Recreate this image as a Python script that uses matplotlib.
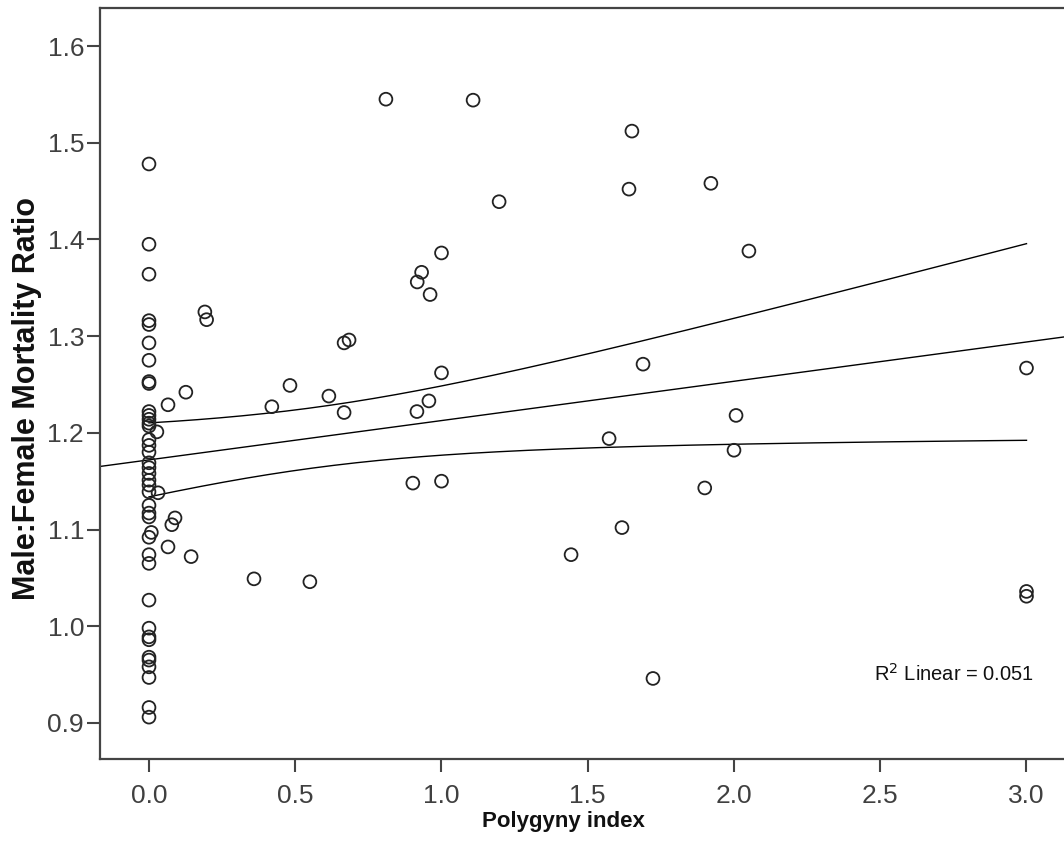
import numpy as np
import matplotlib
matplotlib.use("Agg")
import matplotlib.pyplot as plt

plt.rcParams['font.family'] = ['Liberation Sans', 'DejaVu Sans']

# Points with polygyny index = 0
zero_y = [1.478, 1.395, 1.364, 1.316, 1.312, 1.293, 1.275, 1.253, 1.251,
          1.222, 1.218, 1.214, 1.210, 1.207, 1.193, 1.187, 1.180, 1.169,
          1.164, 1.158, 1.151, 1.146, 1.139, 1.125, 1.117, 1.113, 1.092,
          1.074, 1.065, 1.027, 0.998, 0.989, 0.986, 0.968, 0.965, 0.958,
          0.947, 0.916, 0.906]

# Points with polygyny index > 0
pos_x = [0.008, 0.027, 0.031, 0.065, 0.126, 0.191, 0.197, 0.089, 0.078,
         0.065, 0.144, 0.359, 0.550, 0.420, 0.482, 0.615, 0.667, 0.667,
         0.684, 0.810, 1.108, 1.197, 1.000, 0.932, 0.917, 0.961, 1.000,
         0.916, 0.957, 0.902, 1.000, 1.443, 1.573, 1.617, 1.689, 1.723,
         1.641, 1.651, 1.921, 2.051, 2.007, 2.000, 1.900, 3.000, 3.000,
         3.000]
pos_y = [1.097, 1.201, 1.138, 1.229, 1.242, 1.325, 1.317, 1.112, 1.105,
         1.082, 1.072, 1.049, 1.046, 1.227, 1.249, 1.238, 1.221, 1.293,
         1.296, 1.545, 1.544, 1.439, 1.386, 1.366, 1.356, 1.343, 1.262,
         1.222, 1.233, 1.148, 1.150, 1.074, 1.194, 1.102, 1.271, 0.946,
         1.452, 1.512, 1.458, 1.388, 1.218, 1.182, 1.143, 1.267, 1.036,
         1.031]

x_ticks = [0.0, 0.5, 1.0, 1.5, 2.0, 2.5, 3.0]
y_ticks = [0.9, 1.0, 1.1, 1.2, 1.3, 1.4, 1.5, 1.6]
r2_label = "0.051"

x = np.array([0.0] * len(zero_y) + pos_x)
y = np.array(zero_y + pos_y)

W, H = 1064, 859
fig = plt.figure(figsize=(W / 100, H / 100), dpi=100)
xlim = (-0.1675, 3.2)
ylim = (0.8624, 1.6393)
ax = fig.add_axes([100 / W, (H - 759.3) / H, 985 / W, (759.3 - 8) / H])
ax.set_xlim(*xlim)
ax.set_ylim(*ylim)

# Linear fit and 95% CI of the mean
n = len(x)
b1, b0 = np.polyfit(x, y, 1)
resid = y - (b0 + b1 * x)
s = np.sqrt(np.sum(resid ** 2) / (n - 2))
xbar = x.mean()
sxx = np.sum((x - xbar) ** 2)
t = 1.99
xf = np.linspace(xlim[0], xlim[1], 200)
ax.plot(xf, b0 + b1 * xf, color='black', lw=1.0, zorder=2)
xc = np.linspace(x.min(), x.max(), 200)
se = s * np.sqrt(1 / n + (xc - xbar) ** 2 / sxx)
ax.plot(xc, b0 + b1 * xc + t * se, color='black', lw=1.0, zorder=2)
ax.plot(xc, b0 + b1 * xc - t * se, color='black', lw=1.0, zorder=2)

ax.scatter(x, y, s=85, facecolors='none', edgecolors='#222222',
           linewidths=1.3, zorder=3)

spine_c = '#444444'
for side in ['left', 'bottom', 'top', 'right']:
    ax.spines[side].set_color(spine_c)
    ax.spines[side].set_linewidth(1.6)

ax.set_xticks(x_ticks)
ax.set_xticklabels([f"{v:.1f}" for v in x_ticks])
ax.set_yticks(y_ticks)
ax.set_yticklabels([f"{v:.1f}" for v in y_ticks])
ax.tick_params(axis='both', direction='out', length=9.5, width=1.5,
               color=spine_c, labelsize=19, labelcolor='#404040')
ax.tick_params(axis='x', pad=8)
ax.tick_params(axis='y', pad=2)

ax.text(2.479, 0.951, r"R$^2$ Linear = " + r2_label, fontsize=14.5,
        color='#111111', ha='left', va='center')

fig.text(563 / W, 1 - 821 / H, "Polygyny index", fontsize=16,
         fontweight='bold', ha='center', va='center', color='#111111')
fig.text(27 / W, 1 - 399 / H, "Male:Female Mortality Ratio", fontsize=22,
         fontweight='bold', ha='center', va='center', rotation=90,
         color='#111111')

fig.savefig("out.png", dpi=100)
